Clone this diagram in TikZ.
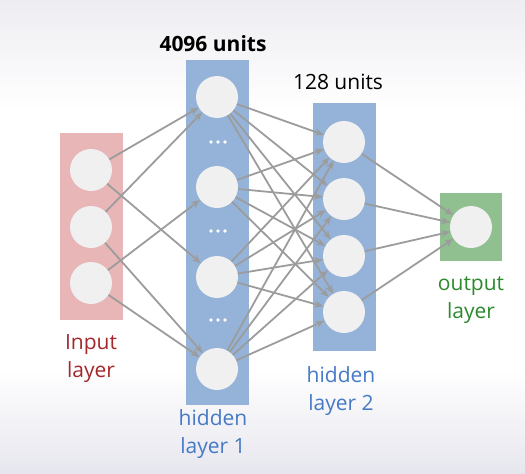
\documentclass[tikz,border=0pt]{standalone}
\usepackage{fontspec}
\setmainfont{Open Sans}
\usetikzlibrary{arrows.meta}

\definecolor{inred}{HTML}{E8B6B6}
\definecolor{hidblue}{HTML}{95B3D9}
\definecolor{outgreen}{HTML}{90C090}
\definecolor{unitgray}{HTML}{F0F0F0}
\definecolor{edgegray}{HTML}{9C9C9C}
\definecolor{labred}{HTML}{A4282C}
\definecolor{labblue}{HTML}{4679C6}
\definecolor{labgreen}{HTML}{2C8A2C}
\definecolor{bgtop}{HTML}{EDEDF2}
\definecolor{bgbot}{HTML}{E6E6EE}

\tikzset{
  layerbox/.style={inner sep=0pt, minimum width=63pt},
  unit/.style={circle, fill=unitgray, minimum size=42pt, inner sep=0pt},
  edge/.style={draw=edgegray, line width=1.8pt, -{Stealth[length=9pt,width=7pt]}},
  lbl/.style={align=center, inner sep=0pt, font=\fontsize{21}{28}\selectfont},
}

\begin{document}
\begin{tikzpicture}[x=1pt, y=-1pt]
  \useasboundingbox (0,0) rectangle (525,474);
  % background
  \shade[top color=bgtop, bottom color=white] (0,0) rectangle (525,110);
  \shade[top color=white, bottom color=bgbot] (0,370) rectangle (525,474);

  % layer boxes
  \node[layerbox, fill=inred, minimum height=187pt] (inbox) at (91.5,226.5) {};
  \node[layerbox, fill=hidblue, minimum height=345pt] (hidA) at (217.5,232.5) {};
  \node[layerbox, fill=hidblue, minimum height=248pt] (hidB) at (344.5,227) {};
  \node[layerbox, fill=outgreen, minimum width=62pt, minimum height=68pt] (outbox) at (471,227) {};

  % units
  \foreach \i/\y in {1/170, 2/227, 3/283}
    \node[unit] (x\i) at (91,\y) {};
  \foreach \i/\y in {1/97, 2/187, 3/277, 4/369}
    \node[unit] (h\i) at (217,\y) {};
  \foreach \i/\y in {1/142, 2/199, 3/256, 4/312}
    \node[unit] (g\i) at (344,\y) {};
  \node[unit] (y) at (471,227) {};

  % dots between units of hidden layer 1
  \foreach \y in {142, 231, 320}
    \foreach \dx in {-7, 0, 7}
      \fill[white] (218+\dx,\y) circle (1.8pt);

  % connections
  \foreach \a/\b in {1/1, 1/3, 2/1, 2/4, 3/2, 3/4}
    \draw[edge] (x\a) -- (h\b);
  \foreach \a in {1,...,4}
    \foreach \b in {1,...,4}
      \draw[edge] (h\a) -- (g\b);
  \foreach \a in {1,...,4}
    \draw[edge] (g\a) -- (y);

  % labels
  \node[lbl, font=\fontsize{21}{28}\selectfont\bfseries] (unitsA) at (213,44) {4096 units};
  \node[lbl] (unitsB) at (338,82) {128 units};
  \node[lbl, text=labred] (inlbl) at (91,359) {Input\\layer};
  \node[lbl, text=labblue] (hidAlbl) at (213,434) {hidden\\layer 1};
  \node[lbl, text=labblue] (hidBlbl) at (341,391) {hidden\\layer 2};
  \node[lbl, text=labgreen] (outlbl) at (471,300) {output\\layer};
\end{tikzpicture}
\end{document}
